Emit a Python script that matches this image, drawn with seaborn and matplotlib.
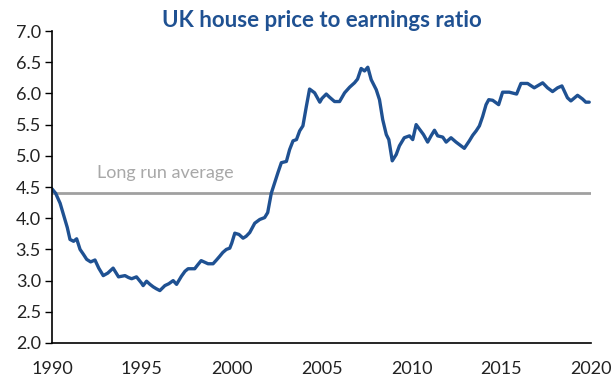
import pandas as pd
import seaborn as sns
import matplotlib.pyplot as plt

# Values (decimal year, ratio)
years = [
    1990.0, 1990.2, 1990.45, 1990.7, 1990.85, 1991.0, 1991.2, 1991.37, 1991.56, 1991.75,
    1991.93, 1992.15, 1992.39, 1992.6, 1992.85, 1993.1, 1993.4, 1993.7, 1994.06, 1994.25,
    1994.43, 1994.7, 1994.98, 1995.07, 1995.26, 1995.45, 1995.63, 1995.8, 1996.0, 1996.28,
    1996.5, 1996.74, 1996.93, 1997.2, 1997.4, 1997.57, 1997.94, 1998.1, 1998.3, 1998.68,
    1998.96, 1999.15, 1999.33, 1999.5, 1999.7, 1999.89, 2000.0, 2000.17, 2000.4, 2000.63,
    2000.8, 2001.0, 2001.28, 2001.56, 2001.83, 2002.0, 2002.2, 2002.39, 2002.57, 2002.76,
    2003.04, 2003.22, 2003.41, 2003.6, 2003.78, 2003.96, 2004.15, 2004.33, 2004.61, 2004.9,
    2005.02, 2005.26, 2005.44, 2005.72, 2006.0, 2006.28, 2006.56, 2006.83, 2007.0, 2007.2,
    2007.39, 2007.57, 2007.76, 2008.04, 2008.22, 2008.4, 2008.6, 2008.74, 2008.93, 2009.15,
    2009.33, 2009.6, 2009.89, 2010.07, 2010.26, 2010.44, 2010.67, 2010.9, 2011.09, 2011.28,
    2011.46, 2011.74, 2011.93, 2012.2, 2012.48, 2012.76, 2012.94, 2013.22, 2013.41, 2013.6,
    2013.78, 2013.96, 2014.15, 2014.3, 2014.52, 2014.85, 2015.07, 2015.44, 2015.85, 2016.09,
    2016.46, 2016.83, 2017.3, 2017.57, 2017.85, 2018.13, 2018.37, 2018.68, 2018.87, 2019.24,
    2019.52, 2019.7, 2019.89,
]
ratio = [
    4.47, 4.40, 4.24, 4.00, 3.85, 3.66, 3.63, 3.67, 3.50, 3.42,
    3.34, 3.30, 3.33, 3.20, 3.08, 3.12, 3.20, 3.06, 3.08, 3.05,
    3.03, 3.06, 2.96, 2.92, 2.99, 2.94, 2.90, 2.87, 2.84, 2.92,
    2.95, 3.00, 2.94, 3.07, 3.15, 3.19, 3.19, 3.25, 3.32, 3.27,
    3.27, 3.33, 3.39, 3.45, 3.50, 3.52, 3.60, 3.76, 3.74, 3.68,
    3.71, 3.77, 3.92, 3.98, 4.01, 4.09, 4.40, 4.57, 4.73, 4.89,
    4.91, 5.10, 5.24, 5.26, 5.40, 5.48, 5.79, 6.07, 6.01, 5.86,
    5.92, 5.99, 5.94, 5.87, 5.87, 6.01, 6.10, 6.17, 6.23, 6.40,
    6.36, 6.42, 6.22, 6.06, 5.90, 5.58, 5.34, 5.26, 4.92, 5.02,
    5.16, 5.29, 5.32, 5.26, 5.50, 5.43, 5.34, 5.22, 5.32, 5.41,
    5.32, 5.30, 5.22, 5.29, 5.22, 5.16, 5.12, 5.24, 5.33, 5.40,
    5.48, 5.63, 5.82, 5.90, 5.89, 5.82, 6.02, 6.02, 5.99, 6.16,
    6.16, 6.09, 6.17, 6.09, 6.03, 6.09, 6.12, 5.93, 5.88, 5.97,
    5.91, 5.86, 5.86,
]
long_run_average = 4.41
x_ticks = [1990, 1995, 2000, 2005, 2010, 2015, 2020]
y_ticks = [2.0, 2.5, 3.0, 3.5, 4.0, 4.5, 5.0, 5.5, 6.0, 6.5, 7.0]

df = pd.DataFrame({'year': years, 'ratio': ratio})

sns.set_style("ticks")
plt.rcParams['font.family'] = ['Lato', 'DejaVu Sans']

fig = plt.figure(figsize=(6.12, 3.88), dpi=100)
ax = fig.add_axes([0.085, 0.116, 0.881, 0.804])

ax.axhline(long_run_average, color='#a0a0a0', lw=2, zorder=1)
sns.lineplot(data=df, x='year', y='ratio', color='#1f5192', lw=2.4, ax=ax, zorder=2)
ax.text(1992.5, 4.72, 'Long run average', color='#a8a8a8', fontsize=13, va='center')

ax.set_xlim(1990, 2020)
ax.set_ylim(2.0, 7.0)
ax.set_xticks(x_ticks)
ax.set_yticks(y_ticks)
ax.set_yticklabels([f'{v:.1f}' for v in y_ticks])
ax.set_xlabel('')
ax.set_ylabel('')
ax.tick_params(axis='x', length=0, pad=13, labelsize=13, colors='#222222')
ax.tick_params(axis='y', length=5, width=1, pad=3, labelsize=13, colors='#222222')
ax.tick_params(axis='y', color='black')
sns.despine(ax=ax)
for s in ['left', 'bottom']:
    ax.spines[s].set_color('black')
    ax.spines[s].set_linewidth(1.2)

ax.set_title('UK house price to earnings ratio', color='#1f5192', fontsize=16,
             fontweight='bold', pad=1)

fig.savefig('out.png', dpi=100)
